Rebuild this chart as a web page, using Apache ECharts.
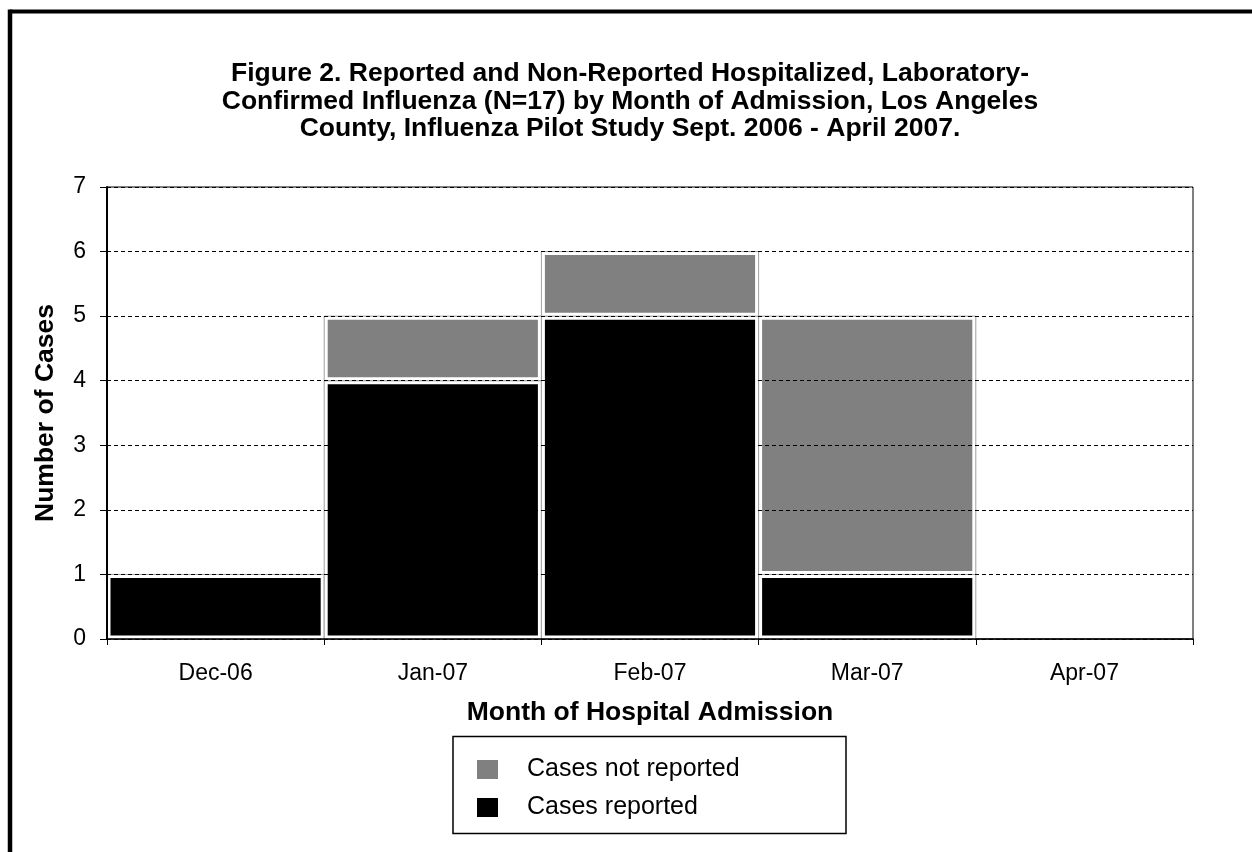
<!DOCTYPE html>
<html>
<head>
<meta charset="utf-8">
<script src="https://cdn.jsdelivr.net/npm/echarts@6/dist/echarts.min.js"></script>
<style>
  html, body { margin: 0; padding: 0; background: #fff; }
  #chart { width: 1252px; height: 852px; }
</style>
</head>
<body>
<div id="chart"></div>
<script>
// Hospitalized, laboratory-confirmed influenza by month of admission
const months = ['Dec-06', 'Jan-07', 'Feb-07', 'Mar-07', 'Apr-07'];
const casesReported = [1, 4, 5, 1, 0];
const casesNotReported = [0, 1, 1, 4, 0];
const yTicks = [0, 1, 2, 3, 4, 5, 6, 7];

const FONT = 'Arial, "Liberation Sans", sans-serif';
const GREY = '#808080';
const BLACK = '#000000';

// Stacked segments: [category index, lower value, upper value]
const reportedSegs = casesReported.map((v, i) => [i, 0, v]);
const notReportedSegs = casesNotReported.map((v, i) => [i, casesReported[i], casesReported[i] + v]);

// Each segment: full-width cell with a thin grey outline, white inset, filled core
function segmentRenderer(color) {
  return function (params, api) {
    const cat = api.value(0), lo = api.value(1), hi = api.value(2);
    if (!(hi > lo)) return;
    const pLo = api.coord([cat, lo]);
    const pHi = api.coord([cat, hi]);
    const w = api.size([1, 0])[0];
    const x0 = pLo[0] - w / 2;
    const top = pHi[1], bot = pLo[1];
    const inset = 3.5;
    return {
      type: 'group',
      children: [
        { type: 'rect', shape: { x: x0, y: top, width: w, height: bot - top },
          style: { fill: '#ffffff', stroke: '#a0a0a0', lineWidth: 1 } },
        { type: 'rect', shape: { x: x0 + inset, y: top + inset, width: w - 2 * inset, height: bot - top - 2 * inset },
          style: { fill: color } }
      ]
    };
  };
}

const chart = echarts.init(document.getElementById('chart'), null, { renderer: 'canvas' });

chart.setOption({
  animation: false,
  backgroundColor: '#ffffff',
  textStyle: { fontFamily: FONT },
  title: {
    text: 'Figure 2. Reported and Non-Reported Hospitalized, Laboratory-\nConfirmed Influenza (N=17) by Month of Admission, Los Angeles\nCounty, Influenza Pilot Study Sept. 2006 - April 2007.',
    left: 630,
    textAlign: 'center',
    top: 60,
    padding: 0,
    textStyle: { fontFamily: FONT, fontWeight: 'bold', fontSize: 26.5, lineHeight: 27.5, color: '#000', align: 'center' }
  },
  grid: {
    left: 107, right: 59, top: 187, bottom: 213,
    show: true, borderColor: '#000', borderWidth: 1, backgroundColor: 'transparent'
  },
  legend: {
    orient: 'vertical',
    left: 477, top: 757,
    padding: 0,
    itemWidth: 21, itemHeight: 19, itemGap: 13,
    icon: 'rect',
    selectedMode: false,
    data: ['Cases not reported', 'Cases reported'],
    textStyle: { fontFamily: FONT, fontSize: 25, color: '#000', lineHeight: 25, padding: [0, 0, 0, 24] }
  },
  xAxis: {
    type: 'category',
    data: months,
    boundaryGap: true,
    name: 'Month of Hospital Admission',
    nameLocation: 'middle',
    nameGap: 60,
    nameTextStyle: { fontFamily: FONT, fontWeight: 'bold', fontSize: 26.5, color: '#000' },
    axisLine: { lineStyle: { color: '#000', width: 1.5 } },
    axisTick: { show: true, length: 6, inside: false, lineStyle: { color: '#000' } },
    axisLabel: { fontFamily: FONT, fontSize: 23, color: '#000', margin: 23 },
    splitLine: { show: false },
    z: 5
  },
  yAxis: {
    type: 'value',
    min: 0, max: 7, interval: 1,
    name: 'Number of Cases',
    nameLocation: 'middle',
    nameGap: 48,
    nameTextStyle: { fontFamily: FONT, fontWeight: 'bold', fontSize: 26.5, color: '#000' },
    axisLine: { show: true, lineStyle: { color: '#000', width: 2 } },
    axisTick: { show: true, length: 7, lineStyle: { color: '#000' } },
    axisLabel: {
      fontFamily: FONT, fontSize: 23, color: '#000', margin: 21,
      formatter: v => (yTicks.includes(v) ? String(v) : '')
    },
    splitLine: { show: true, lineStyle: { color: '#000', width: 1, type: [4, 3] } },
    z: 5
  },
  series: [
    {
      name: 'Cases reported',
      type: 'custom',
      renderItem: segmentRenderer(BLACK),
      itemStyle: { color: BLACK },
      encode: { x: 0, y: [1, 2] },
      data: reportedSegs,
      z: 3
    },
    {
      name: 'Cases not reported',
      type: 'custom',
      renderItem: segmentRenderer(GREY),
      itemStyle: { color: GREY },
      encode: { x: 0, y: [1, 2] },
      data: notReportedSegs,
      z: 3
    }
  ],
  graphic: [
    // outer frame (left and top edges)
    { type: 'line', shape: { x1: 10, y1: 11.5, x2: 1252, y2: 11.5 }, style: { stroke: '#000', lineWidth: 4 }, silent: true },
    { type: 'line', shape: { x1: 10, y1: 9.5, x2: 10, y2: 852 }, style: { stroke: '#000', lineWidth: 4.5 }, silent: true },
    // legend box
    { type: 'rect', shape: { x: 453, y: 736.5, width: 393, height: 97 }, style: { fill: 'none', stroke: '#000', lineWidth: 1.5 }, silent: true, z: -1 }
  ]
});
</script>
</body>
</html>
